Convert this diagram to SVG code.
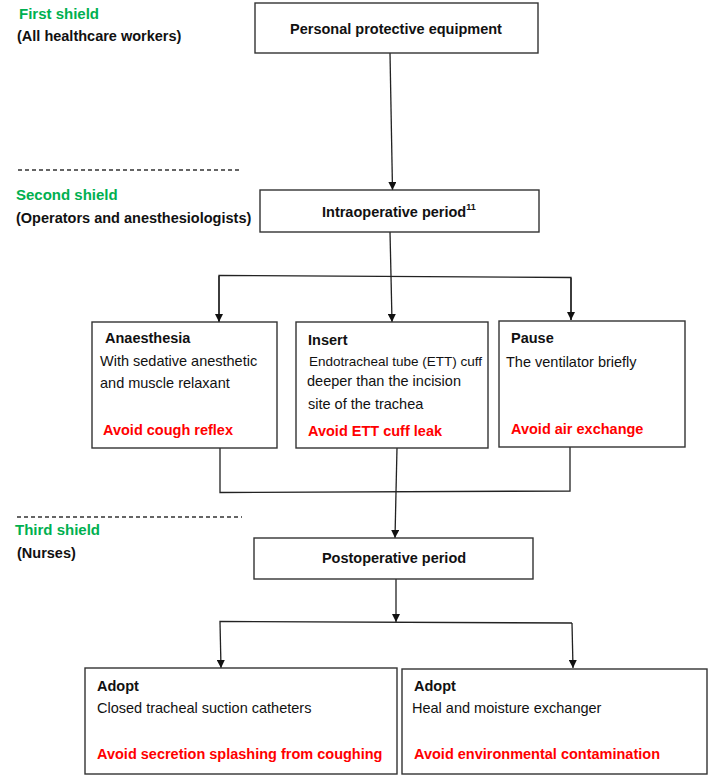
<svg xmlns="http://www.w3.org/2000/svg" width="709" height="777" viewBox="0 0 709 777">
<style>
  .bg { fill: #ffffff; }
  .box { fill: #ffffff; stroke: #333333; stroke-width: 1.4; }
  .t { font-family: "Liberation Sans", Arial, sans-serif; font-size: 14.5px; fill: #111111; }
  .b { font-weight: bold; }
  .c { text-anchor: middle; }
  .g { font-family: "Liberation Sans", Arial, sans-serif; font-size: 15px; font-weight: bold; fill: #00b050; }
  .r { font-family: "Liberation Sans", Arial, sans-serif; font-size: 14.5px; font-weight: bold; fill: #ff0000; }
  .sm { font-size: 13.5px; }
  .conn { fill: none; stroke: #222222; stroke-width: 1.3; }
  .arr { marker-end: url(#ah); }
  .dash { fill: none; stroke: #333333; stroke-width: 1.3; stroke-dasharray: 4 3; }
</style>
<defs>
  <marker id="ah" viewBox="0 0 10 10" refX="10" refY="5" markerWidth="8" markerHeight="8" markerUnits="userSpaceOnUse" orient="auto">
    <path d="M0,0 L10,5 L0,10 z" fill="#111111"/>
  </marker>
</defs>
<rect class="bg" x="0" y="0" width="709" height="777"/>

<g id="shield-labels">
  <text class="g" x="19" y="19">First shield</text>
  <text class="t b" x="17" y="41">(All healthcare workers)</text>
  <line class="dash" x1="18" y1="170" x2="242" y2="170"/>
  <text class="g" x="16" y="200">Second shield</text>
  <text class="t b" x="16" y="223">(Operators and anesthesiologists)</text>
  <line class="dash" x1="17" y1="517" x2="242" y2="517"/>
  <text class="g" x="15" y="535">Third shield</text>
  <text class="t b" x="17" y="558">(Nurses)</text>
</g>

<g id="connectors">
  <line class="conn arr" x1="390" y1="53" x2="392.5" y2="190"/>
  <line class="conn" x1="390" y1="232" x2="391" y2="276"/>
  <polyline class="conn" points="219,322 219,275.5 571,277.5 571,320"/>
  <line class="conn arr" x1="219" y1="276" x2="219" y2="322"/>
  <line class="conn arr" x1="391" y1="276" x2="392" y2="322"/>
  <line class="conn arr" x1="571" y1="278" x2="571" y2="320"/>
  <polyline class="conn" points="220,448 220,492.5 570,491 570,447"/>
  <line class="conn" x1="397" y1="448" x2="396" y2="492"/>
  <line class="conn arr" x1="396" y1="492" x2="395" y2="538"/>
  <line class="conn arr" x1="396" y1="579" x2="396" y2="622"/>
  <polyline class="conn" points="220,622 220,621.5 572,623"/>
  <line class="conn arr" x1="220" y1="622" x2="221" y2="668"/>
  <line class="conn arr" x1="572" y1="623" x2="573" y2="668"/>
</g>

<g id="ppe">
  <rect class="box" x="255" y="3" width="283" height="50"/>
  <text class="t b c" x="396" y="34">Personal protective equipment</text>
</g>

<g id="intraop">
  <rect class="box" x="260" y="190" width="279" height="42"/>
  <text class="t b" x="322" y="217">Intraoperative period<tspan font-size="9" dy="-7">11</tspan></text>
</g>

<g id="anaesthesia">
  <rect class="box" x="92" y="322" width="185" height="126"/>
  <text class="t b" x="105" y="343">Anaesthesia</text>
  <text class="t" x="100" y="366">With sedative anesthetic</text>
  <text class="t" x="100" y="388">and muscle relaxant</text>
  <text class="r" x="103" y="435">Avoid cough reflex</text>
</g>

<g id="insert">
  <rect class="box" x="296" y="322" width="192" height="126"/>
  <text class="t b" x="308" y="345">Insert</text>
  <text class="t sm" x="309" y="366">Endotracheal tube (ETT) cuff</text>
  <text class="t" x="307" y="386">deeper than the  incision</text>
  <text class="t" x="308" y="409">site of the trachea</text>
  <text class="r" x="308" y="436">Avoid ETT cuff leak</text>
</g>

<g id="pause">
  <rect class="box" x="499" y="321" width="186" height="126"/>
  <text class="t b" x="511" y="343">Pause</text>
  <text class="t" x="506" y="367">The ventilator briefly</text>
  <text class="r" x="511" y="434">Avoid air exchange</text>
</g>

<g id="postop">
  <rect class="box" x="254" y="538" width="279" height="41"/>
  <text class="t b c" x="394" y="563">Postoperative period</text>
</g>

<g id="adopt-suction">
  <rect class="box" x="85" y="668" width="312" height="106"/>
  <text class="t b" x="97" y="691">Adopt</text>
  <text class="t" x="97" y="713">Closed tracheal suction catheters</text>
  <text class="r" x="97" y="759">Avoid secretion splashing from coughing</text>
</g>

<g id="adopt-hme">
  <rect class="box" x="402" y="669" width="305" height="105"/>
  <text class="t b" x="414" y="691">Adopt</text>
  <text class="t" x="412" y="713">Heal and moisture exchanger</text>
  <text class="r" x="414" y="759">Avoid environmental contamination</text>
</g>
</svg>
